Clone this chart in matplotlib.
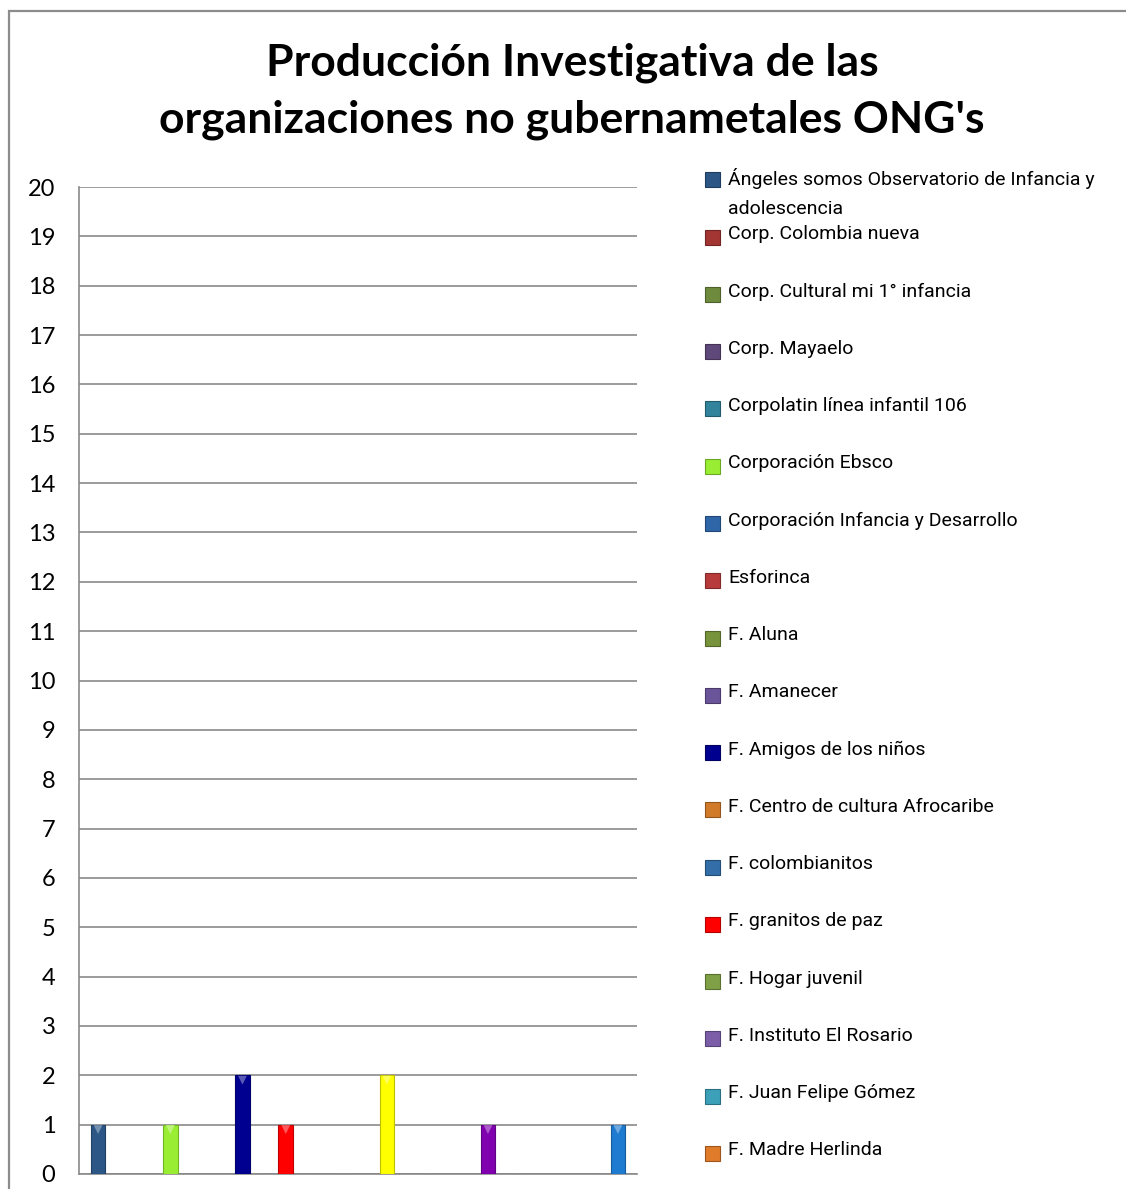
import numpy as np
import matplotlib.pyplot as plt
from matplotlib.patches import Rectangle
from matplotlib.colors import to_rgb

W, H = 1126, 1189

title = "Producción Investigativa de las\norganizaciones no gubernametales ONG's"

# legend entries that are visible in the picture (the rest is cut off)
org_names = [
    "Ángeles somos Observatorio de Infancia y\nadolescencia",
    "Corp. Colombia nueva",
    "Corp. Cultural mi 1° infancia",
    "Corp. Mayaelo",
    "Corpolatin línea infantil 106",
    "Corporación Ebsco",
    "Corporación Infancia y Desarrollo",
    "Esforinca",
    "F. Aluna",
    "F. Amanecer",
    "F. Amigos de los niños",
    "F. Centro de cultura Afrocaribe",
    "F. colombianitos",
    "F. granitos de paz",
    "F. Hogar juvenil",
    "F. Instituto El Rosario",
    "F. Juan Felipe Gómez",
    "F. Madre Herlinda",
]

# one value per series (37 series in a single category)
values = [1, 0, 0, 0, 0, 1, 0, 0, 0, 0,
          2, 0, 0, 1, 0, 0, 0, 0, 0, 0,
          2, 0, 0, 0, 0, 0, 0, 1, 0, 0,
          0, 0, 0, 0, 0, 0, 1]

series_colors = [
    "#2B5685", "#A33533", "#6E8B3D", "#5F497A", "#31849B", "#99EE33",
    "#2F66A8", "#B83B3B", "#77933C", "#6A559A", "#000090", "#D17A2A",
    "#336EA8", "#FF0000", "#7FA046", "#7B5EA7", "#3CA0B8", "#E07B2A",
    "#2E5C8E", "#A33533", "#FFFF00", "#5F497A", "#31849B", "#D17A2A",
    "#2E5C8E", "#A33533", "#6E8B3D", "#8000B0", "#31849B", "#D17A2A",
    "#2E5C8E", "#A33533", "#6E8B3D", "#5F497A", "#31849B", "#D17A2A",
    "#1E7BD0",
]

y_ticks = list(range(0, 21))


def shade(c, f):
    r, g, b = to_rgb(c)
    if f < 1:
        return (r * f, g * f, b * f)
    return (r + (1 - r) * (f - 1), g + (1 - g) * (f - 1), b + (1 - b) * (f - 1))


fig = plt.figure(figsize=(W / 100, H / 100), dpi=100)

# chart frame (cut by the picture on the right and the bottom)
fig.add_artist(Rectangle((9 / W, -0.05), 1.2, (H - 11) / H + 0.05,
                         transform=fig.transFigure, fill=False,
                         edgecolor="#8c8c8c", lw=1.6))

ax = fig.add_axes([79 / W, 15 / H, (637 - 79) / W, (1174 - 187) / H])

x = np.arange(len(values))
vals = np.array(values)
ax.bar(x, vals, width=1.02, color=series_colors,
       edgecolor=[shade(c, 0.75) for c in series_colors], linewidth=0.8, zorder=3)
nz = vals > 0
ax.scatter(x[nz], vals[nz] - 0.1, marker="v", s=40,
           color=[shade(c, 1.35) for c, k in zip(series_colors, nz) if k], zorder=4, linewidths=0)

ax.set_xlim(-1.32, len(values) - 1 + 1.32)
ax.set_ylim(0, 20)
ax.set_yticks(y_ticks)
ax.set_xticks([])
ax.grid(axis="y", color="#8a8a8a", lw=1.2)
ax.set_axisbelow(True)
for s in ["top", "right"]:
    ax.spines[s].set_visible(False)
ax.spines["left"].set_color("#8a8a8a")
ax.spines["bottom"].set_color("#8a8a8a")
ax.spines["left"].set_linewidth(1.2)
ax.spines["bottom"].set_linewidth(1.2)
ax.tick_params(axis="y", length=0, pad=17, labelsize=17)
for t in ax.get_yticklabels():
    t.set_fontfamily(["Lato", "DejaVu Sans"])

fig.text(572 / W, 1 - 91 / H, title, ha="center", va="center",
         fontsize=32, fontweight="bold", family=["Lato", "DejaVu Sans"],
         linespacing=1.5)

# legend, drawn entry by entry
y0, step = 180, 57.25
for i, name in enumerate(org_names):
    yc = y0 + i * step
    c = series_colors[i]
    fig.add_artist(Rectangle((705 / W, 1 - (yc + 7.5) / H), 15 / W, 15 / H,
                             transform=fig.transFigure, facecolor=c,
                             edgecolor=shade(c, 0.7), lw=0.8))
    fig.text(728 / W, 1 - (yc - 12) / H, name, ha="left", va="top",
             fontsize=14, family=["Roboto", "DejaVu Sans"],
             linespacing=1.75)

fig.savefig("out.png", dpi=100)
